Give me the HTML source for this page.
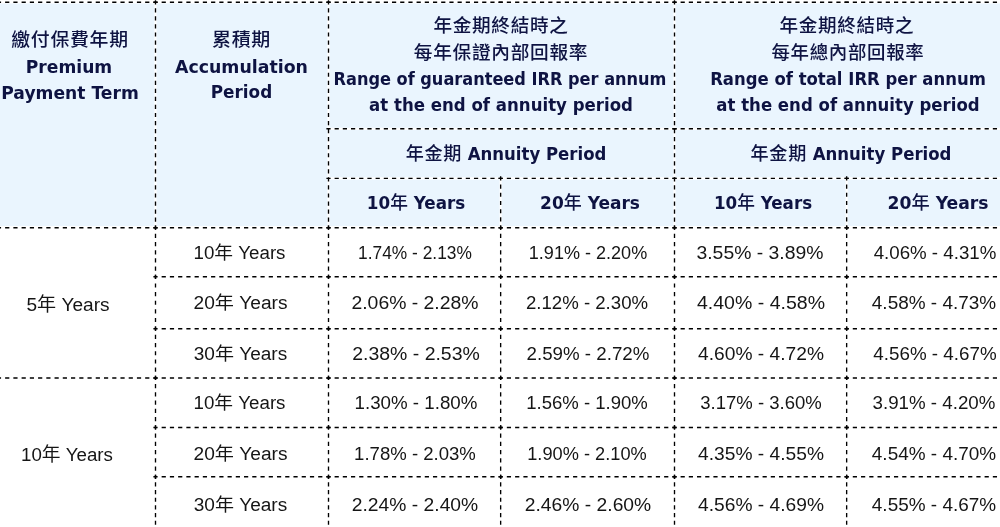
<!DOCTYPE html><html><head><meta charset="utf-8"><title>IRR table</title><style>
*{margin:0;padding:0;box-sizing:border-box}
html,body{width:1000px;height:527px;overflow:hidden;background:#fff}
body{position:relative}
.hdr{position:absolute;left:0;top:3px;width:1000px;height:223px;background:#eaf5fe}
.ln{position:absolute;left:0;top:0}
.t{position:absolute;text-align:center;white-space:nowrap;line-height:26px;height:26px}
.hb{font-family:"DejaVu Sans","Noto Sans CJK TC",sans-serif;font-weight:bold;font-size:17px;color:#0e1342}
.hc{font-family:"Noto Sans CJK TC",sans-serif;font-weight:500;font-size:18.6px;letter-spacing:0.7px;color:#0e1342}
.cj{font-family:"Noto Sans CJK TC",sans-serif;font-weight:500;font-size:18.6px;letter-spacing:0.7px}
.cjm{font-family:"Noto Sans CJK TC",sans-serif;font-weight:500;font-size:18px}
.bd{font-family:"Liberation Sans","Noto Sans CJK TC",sans-serif;font-size:18px;color:#151515}
.bd0{font-size:18.9px}
</style></head><body>
<div class="hdr"></div>
<svg class="ln" width="1000" height="527" viewBox="0 0 1000 527" fill="none"><g stroke="#fff"><line x1="-17.50" y1="2.3" x2="1000" y2="2.3" stroke-width="2.2"/><line x1="328.50" y1="128.8" x2="1000" y2="128.8" stroke-width="2.2"/><line x1="328.50" y1="178.3" x2="1000" y2="178.3" stroke-width="2.2"/><line x1="155.5" y1="2.3" x2="155.5" y2="227.7" stroke-width="2.2"/><line x1="328.5" y1="2.3" x2="328.5" y2="227.7" stroke-width="2.2"/><line x1="674.5" y1="2.3" x2="674.5" y2="227.7" stroke-width="2.2"/><line x1="500.65" y1="178.3" x2="500.65" y2="227.7" stroke-width="2.2"/><line x1="846.65" y1="178.3" x2="846.65" y2="227.7" stroke-width="2.2"/></g><g stroke="#000"><line x1="-19.60" y1="2.30" x2="157.60" y2="2.30" stroke-width="1.5" stroke-dasharray="4.2 4.038"/><line x1="153.40" y1="2.30" x2="330.60" y2="2.30" stroke-width="1.5" stroke-dasharray="4.2 4.038"/><line x1="326.40" y1="2.30" x2="502.75" y2="2.30" stroke-width="1.5" stroke-dasharray="4.2 3.998"/><line x1="498.55" y1="2.30" x2="676.60" y2="2.30" stroke-width="1.5" stroke-dasharray="4.2 4.079"/><line x1="672.40" y1="2.30" x2="848.75" y2="2.30" stroke-width="1.5" stroke-dasharray="4.2 3.998"/><line x1="844.55" y1="2.30" x2="1021.75" y2="2.30" stroke-width="1.5" stroke-dasharray="4.2 4.038"/><line x1="326.40" y1="128.80" x2="502.75" y2="128.80" stroke-width="1.5" stroke-dasharray="4.2 3.998"/><line x1="498.55" y1="128.80" x2="676.60" y2="128.80" stroke-width="1.5" stroke-dasharray="4.2 4.079"/><line x1="672.40" y1="128.80" x2="848.75" y2="128.80" stroke-width="1.5" stroke-dasharray="4.2 3.998"/><line x1="844.55" y1="128.80" x2="1021.75" y2="128.80" stroke-width="1.5" stroke-dasharray="4.2 4.038"/><line x1="326.40" y1="178.30" x2="502.75" y2="178.30" stroke-width="1.3" stroke-dasharray="4.2 3.998"/><line x1="498.55" y1="178.30" x2="676.60" y2="178.30" stroke-width="1.3" stroke-dasharray="4.2 4.079"/><line x1="672.40" y1="178.30" x2="848.75" y2="178.30" stroke-width="1.3" stroke-dasharray="4.2 3.998"/><line x1="844.55" y1="178.30" x2="1021.75" y2="178.30" stroke-width="1.3" stroke-dasharray="4.2 4.038"/><line x1="-19.60" y1="227.70" x2="157.60" y2="227.70" stroke-width="1.5" stroke-dasharray="4.2 4.038"/><line x1="153.40" y1="227.70" x2="330.60" y2="227.70" stroke-width="1.5" stroke-dasharray="4.2 4.038"/><line x1="326.40" y1="227.70" x2="502.75" y2="227.70" stroke-width="1.5" stroke-dasharray="4.2 3.998"/><line x1="498.55" y1="227.70" x2="676.60" y2="227.70" stroke-width="1.5" stroke-dasharray="4.2 4.079"/><line x1="672.40" y1="227.70" x2="848.75" y2="227.70" stroke-width="1.5" stroke-dasharray="4.2 3.998"/><line x1="844.55" y1="227.70" x2="1021.75" y2="227.70" stroke-width="1.5" stroke-dasharray="4.2 4.038"/><line x1="-19.60" y1="377.90" x2="157.60" y2="377.90" stroke-width="1.5" stroke-dasharray="4.2 4.038"/><line x1="153.40" y1="377.90" x2="330.60" y2="377.90" stroke-width="1.5" stroke-dasharray="4.2 4.038"/><line x1="326.40" y1="377.90" x2="502.75" y2="377.90" stroke-width="1.5" stroke-dasharray="4.2 3.998"/><line x1="498.55" y1="377.90" x2="676.60" y2="377.90" stroke-width="1.5" stroke-dasharray="4.2 4.079"/><line x1="672.40" y1="377.90" x2="848.75" y2="377.90" stroke-width="1.5" stroke-dasharray="4.2 3.998"/><line x1="844.55" y1="377.90" x2="1021.75" y2="377.90" stroke-width="1.5" stroke-dasharray="4.2 4.038"/><line x1="153.40" y1="276.85" x2="330.60" y2="276.85" stroke-width="1.5" stroke-dasharray="4.2 4.038"/><line x1="326.40" y1="276.85" x2="502.75" y2="276.85" stroke-width="1.5" stroke-dasharray="4.2 3.998"/><line x1="498.55" y1="276.85" x2="676.60" y2="276.85" stroke-width="1.5" stroke-dasharray="4.2 4.079"/><line x1="672.40" y1="276.85" x2="848.75" y2="276.85" stroke-width="1.5" stroke-dasharray="4.2 3.998"/><line x1="844.55" y1="276.85" x2="1021.75" y2="276.85" stroke-width="1.5" stroke-dasharray="4.2 4.038"/><line x1="153.40" y1="328.65" x2="330.60" y2="328.65" stroke-width="1.5" stroke-dasharray="4.2 4.038"/><line x1="326.40" y1="328.65" x2="502.75" y2="328.65" stroke-width="1.5" stroke-dasharray="4.2 3.998"/><line x1="498.55" y1="328.65" x2="676.60" y2="328.65" stroke-width="1.5" stroke-dasharray="4.2 4.079"/><line x1="672.40" y1="328.65" x2="848.75" y2="328.65" stroke-width="1.5" stroke-dasharray="4.2 3.998"/><line x1="844.55" y1="328.65" x2="1021.75" y2="328.65" stroke-width="1.5" stroke-dasharray="4.2 4.038"/><line x1="153.40" y1="427.40" x2="330.60" y2="427.40" stroke-width="1.5" stroke-dasharray="4.2 4.038"/><line x1="326.40" y1="427.40" x2="502.75" y2="427.40" stroke-width="1.5" stroke-dasharray="4.2 3.998"/><line x1="498.55" y1="427.40" x2="676.60" y2="427.40" stroke-width="1.5" stroke-dasharray="4.2 4.079"/><line x1="672.40" y1="427.40" x2="848.75" y2="427.40" stroke-width="1.5" stroke-dasharray="4.2 3.998"/><line x1="844.55" y1="427.40" x2="1021.75" y2="427.40" stroke-width="1.5" stroke-dasharray="4.2 4.038"/><line x1="153.40" y1="476.80" x2="330.60" y2="476.80" stroke-width="1.5" stroke-dasharray="4.2 4.038"/><line x1="326.40" y1="476.80" x2="502.75" y2="476.80" stroke-width="1.5" stroke-dasharray="4.2 3.998"/><line x1="498.55" y1="476.80" x2="676.60" y2="476.80" stroke-width="1.5" stroke-dasharray="4.2 4.079"/><line x1="672.40" y1="476.80" x2="848.75" y2="476.80" stroke-width="1.5" stroke-dasharray="4.2 3.998"/><line x1="844.55" y1="476.80" x2="1021.75" y2="476.80" stroke-width="1.5" stroke-dasharray="4.2 4.038"/><line x1="155.50" y1="0.20" x2="155.50" y2="229.80" stroke-width="1.35" stroke-dasharray="4.2 3.850"/><line x1="328.50" y1="0.20" x2="328.50" y2="229.80" stroke-width="1.35" stroke-dasharray="4.2 3.850"/><line x1="674.50" y1="0.20" x2="674.50" y2="229.80" stroke-width="1.35" stroke-dasharray="4.2 3.850"/><line x1="500.65" y1="176.20" x2="500.65" y2="229.80" stroke-width="1.35" stroke-dasharray="4.2 4.033"/><line x1="846.65" y1="176.20" x2="846.65" y2="229.80" stroke-width="1.35" stroke-dasharray="4.2 4.033"/><line x1="155.50" y1="225.60" x2="155.50" y2="278.95" stroke-width="1.35" stroke-dasharray="4.2 3.992"/><line x1="155.50" y1="274.75" x2="155.50" y2="330.75" stroke-width="1.35" stroke-dasharray="4.2 4.433"/><line x1="155.50" y1="326.55" x2="155.50" y2="380.00" stroke-width="1.35" stroke-dasharray="4.2 4.008"/><line x1="155.50" y1="375.80" x2="155.50" y2="429.50" stroke-width="1.35" stroke-dasharray="4.2 4.050"/><line x1="155.50" y1="425.30" x2="155.50" y2="478.90" stroke-width="1.35" stroke-dasharray="4.2 4.033"/><line x1="155.50" y1="474.70" x2="155.50" y2="532.50" stroke-width="1.35" stroke-dasharray="4.2 3.457"/><line x1="328.50" y1="225.60" x2="328.50" y2="278.95" stroke-width="1.35" stroke-dasharray="4.2 3.992"/><line x1="328.50" y1="274.75" x2="328.50" y2="330.75" stroke-width="1.35" stroke-dasharray="4.2 4.433"/><line x1="328.50" y1="326.55" x2="328.50" y2="380.00" stroke-width="1.35" stroke-dasharray="4.2 4.008"/><line x1="328.50" y1="375.80" x2="328.50" y2="429.50" stroke-width="1.35" stroke-dasharray="4.2 4.050"/><line x1="328.50" y1="425.30" x2="328.50" y2="478.90" stroke-width="1.35" stroke-dasharray="4.2 4.033"/><line x1="328.50" y1="474.70" x2="328.50" y2="532.50" stroke-width="1.35" stroke-dasharray="4.2 3.457"/><line x1="500.65" y1="225.60" x2="500.65" y2="278.95" stroke-width="1.35" stroke-dasharray="4.2 3.992"/><line x1="500.65" y1="274.75" x2="500.65" y2="330.75" stroke-width="1.35" stroke-dasharray="4.2 4.433"/><line x1="500.65" y1="326.55" x2="500.65" y2="380.00" stroke-width="1.35" stroke-dasharray="4.2 4.008"/><line x1="500.65" y1="375.80" x2="500.65" y2="429.50" stroke-width="1.35" stroke-dasharray="4.2 4.050"/><line x1="500.65" y1="425.30" x2="500.65" y2="478.90" stroke-width="1.35" stroke-dasharray="4.2 4.033"/><line x1="500.65" y1="474.70" x2="500.65" y2="532.50" stroke-width="1.35" stroke-dasharray="4.2 3.457"/><line x1="674.50" y1="225.60" x2="674.50" y2="278.95" stroke-width="1.35" stroke-dasharray="4.2 3.992"/><line x1="674.50" y1="274.75" x2="674.50" y2="330.75" stroke-width="1.35" stroke-dasharray="4.2 4.433"/><line x1="674.50" y1="326.55" x2="674.50" y2="380.00" stroke-width="1.35" stroke-dasharray="4.2 4.008"/><line x1="674.50" y1="375.80" x2="674.50" y2="429.50" stroke-width="1.35" stroke-dasharray="4.2 4.050"/><line x1="674.50" y1="425.30" x2="674.50" y2="478.90" stroke-width="1.35" stroke-dasharray="4.2 4.033"/><line x1="674.50" y1="474.70" x2="674.50" y2="532.50" stroke-width="1.35" stroke-dasharray="4.2 3.457"/><line x1="846.65" y1="225.60" x2="846.65" y2="278.95" stroke-width="1.35" stroke-dasharray="4.2 3.992"/><line x1="846.65" y1="274.75" x2="846.65" y2="330.75" stroke-width="1.35" stroke-dasharray="4.2 4.433"/><line x1="846.65" y1="326.55" x2="846.65" y2="380.00" stroke-width="1.35" stroke-dasharray="4.2 4.008"/><line x1="846.65" y1="375.80" x2="846.65" y2="429.50" stroke-width="1.35" stroke-dasharray="4.2 4.050"/><line x1="846.65" y1="425.30" x2="846.65" y2="478.90" stroke-width="1.35" stroke-dasharray="4.2 4.033"/><line x1="846.65" y1="474.70" x2="846.65" y2="532.50" stroke-width="1.35" stroke-dasharray="4.2 3.457"/></g></svg>
<div class="t hc" id="t0" style="left:-16.0px;width:172px;top:25.0px;transform:scaleX(1.015);">繳付保費年期</div>
<div class="t hb" id="t1" style="left:-16.9px;width:172px;top:54.0px;transform:scaleX(1.0072);">Premium</div>
<div class="t hb" id="t2" style="left:-16.1px;width:172px;top:79.5px;transform:scaleX(1.0082);">Payment Term</div>
<div class="t hc" id="t3" style="left:154.9px;width:173px;top:25.0px;transform:scaleX(1.0218);">累積期</div>
<div class="t hb" id="t4" style="left:154.6px;width:173px;top:53.8px;transform:scaleX(1.0203);">Accumulation</div>
<div class="t hb" id="t5" style="left:154.5px;width:173px;top:78.9px;transform:scaleX(0.9898);">Period</div>
<div class="t hc" id="t6" style="left:327.9px;width:346px;top:11.3px;transform:scaleX(1.0008);">年金期終結時之</div>
<div class="t hc" id="t7" style="left:328.4px;width:346px;top:37.5px;transform:scaleX(1.0041);">每年保證內部回報率</div>
<div class="t hb" id="t8" style="left:324.7px;width:346px;top:66.0px;transform:scaleX(0.9507);">Range of guaranteed IRR per annum</div>
<div class="t hb" id="t9" style="left:327.9px;width:346px;top:92.0px;transform:scaleX(0.9757);">at the end of annuity period</div>
<div class="t hb" id="t10" style="left:332.8px;width:346px;top:138.8px;transform:scaleX(0.973);"><span class="cj">年金期</span> Annuity Period</div>
<div class="t hb" id="t11" style="left:329.5px;width:172px;top:188.0px;transform:scaleX(0.9856);">10<span class="cjm">年</span> Years</div>
<div class="t hb" id="t12" style="left:503.0px;width:174px;top:188.0px;">20<span class="cjm">年</span> Years</div>
<div class="t hc" id="t13" style="left:672.8px;width:348px;top:11.3px;transform:scaleX(0.9977);">年金期終結時之</div>
<div class="t hc" id="t14" style="left:673.5px;width:348px;top:37.5px;transform:scaleX(0.9914);">每年總內部回報率</div>
<div class="t hb" id="t15" style="left:673.8px;width:348px;top:66.0px;transform:scaleX(0.9695);">Range of total IRR per annum</div>
<div class="t hb" id="t16" style="left:673.8px;width:348px;top:92.0px;transform:scaleX(0.9739);">at the end of annuity period</div>
<div class="t hb" id="t17" style="left:676.8px;width:348px;top:138.8px;transform:scaleX(0.974);"><span class="cj">年金期</span> Annuity Period</div>
<div class="t hb" id="t18" style="left:676.8px;width:172px;top:188.0px;transform:scaleX(0.9835);">10<span class="cjm">年</span> Years</div>
<div class="t hb" id="t19" style="left:850.3px;width:176px;top:188.0px;transform:scaleX(1.0122);">20<span class="cjm">年</span> Years</div>
<div class="t bd bd0" id="t20" style="left:-17.9px;width:172px;top:292.0px;transform:scaleX(1.01);">5年 Years</div>
<div class="t bd bd0" id="t21" style="left:-18.7px;width:172px;top:442.3px;transform:scaleX(0.9912);">10年 Years</div>
<div class="t bd" id="t22" style="left:153.2px;width:173px;top:240.0px;transform:scaleX(1.0407);">10年 Years</div>
<div class="t bd" id="t23" style="left:329.0px;width:172px;top:240.0px;transform:scaleX(0.9638);">1.74% - 2.13%</div>
<div class="t bd" id="t24" style="left:500.9px;width:174px;top:240.0px;transform:scaleX(1.0026);">1.91% - 2.20%</div>
<div class="t bd" id="t25" style="left:674.0px;width:172px;top:240.0px;transform:scaleX(1.0759);">3.55% - 3.89%</div>
<div class="t bd" id="t26" style="left:846.9px;width:176px;top:240.0px;transform:scaleX(1.0393);">4.06% - 4.31%</div>
<div class="t bd" id="t27" style="left:153.8px;width:173px;top:290.2px;transform:scaleX(1.0632);">20年 Years</div>
<div class="t bd" id="t28" style="left:329.2px;width:172px;top:290.2px;transform:scaleX(1.0759);">2.06% - 2.28%</div>
<div class="t bd" id="t29" style="left:500.2px;width:174px;top:290.2px;transform:scaleX(1.0345);">2.12% - 2.30%</div>
<div class="t bd" id="t30" style="left:674.5px;width:172px;top:290.2px;transform:scaleX(1.0838);">4.40% - 4.58%</div>
<div class="t bd" id="t31" style="left:846.1px;width:176px;top:290.2px;transform:scaleX(1.053);">4.58% - 4.73%</div>
<div class="t bd" id="t32" style="left:154.0px;width:173px;top:340.8px;transform:scaleX(1.0575);">30年 Years</div>
<div class="t bd" id="t33" style="left:329.5px;width:172px;top:340.8px;transform:scaleX(1.081);">2.38% - 2.53%</div>
<div class="t bd" id="t34" style="left:500.5px;width:174px;top:340.8px;transform:scaleX(1.0397);">2.59% - 2.72%</div>
<div class="t bd" id="t35" style="left:674.5px;width:172px;top:340.8px;transform:scaleX(1.0667);">4.60% - 4.72%</div>
<div class="t bd" id="t36" style="left:846.6px;width:176px;top:340.8px;transform:scaleX(1.0444);">4.56% - 4.67%</div>
<div class="t bd" id="t37" style="left:153.2px;width:173px;top:390.3px;transform:scaleX(1.0407);">10年 Years</div>
<div class="t bd" id="t38" style="left:329.7px;width:172px;top:390.3px;transform:scaleX(1.0397);">1.30% - 1.80%</div>
<div class="t bd" id="t39" style="left:499.9px;width:174px;top:390.3px;transform:scaleX(1.0293);">1.56% - 1.90%</div>
<div class="t bd" id="t40" style="left:674.5px;width:172px;top:390.3px;transform:scaleX(1.0293);">3.17% - 3.60%</div>
<div class="t bd" id="t41" style="left:845.9px;width:176px;top:390.3px;transform:scaleX(1.0397);">3.91% - 4.20%</div>
<div class="t bd" id="t42" style="left:153.8px;width:173px;top:440.8px;transform:scaleX(1.0632);">20年 Years</div>
<div class="t bd" id="t43" style="left:329.2px;width:172px;top:440.8px;transform:scaleX(1.031);">1.78% - 2.03%</div>
<div class="t bd" id="t44" style="left:499.9px;width:174px;top:440.8px;transform:scaleX(1.0121);">1.90% - 2.10%</div>
<div class="t bd" id="t45" style="left:674.5px;width:172px;top:440.8px;transform:scaleX(1.0667);">4.35% - 4.55%</div>
<div class="t bd" id="t46" style="left:846.1px;width:176px;top:440.8px;transform:scaleX(1.053);">4.54% - 4.70%</div>
<div class="t bd" id="t47" style="left:154.0px;width:173px;top:492.2px;transform:scaleX(1.0575);">30年 Years</div>
<div class="t bd" id="t48" style="left:328.9px;width:172px;top:492.2px;transform:scaleX(1.0707);">2.24% - 2.40%</div>
<div class="t bd" id="t49" style="left:500.7px;width:174px;top:492.2px;transform:scaleX(1.0707);">2.46% - 2.60%</div>
<div class="t bd" id="t50" style="left:674.5px;width:172px;top:492.2px;transform:scaleX(1.0667);">4.56% - 4.69%</div>
<div class="t bd" id="t51" style="left:846.1px;width:176px;top:492.2px;transform:scaleX(1.053);">4.55% - 4.67%</div>
</body></html>
